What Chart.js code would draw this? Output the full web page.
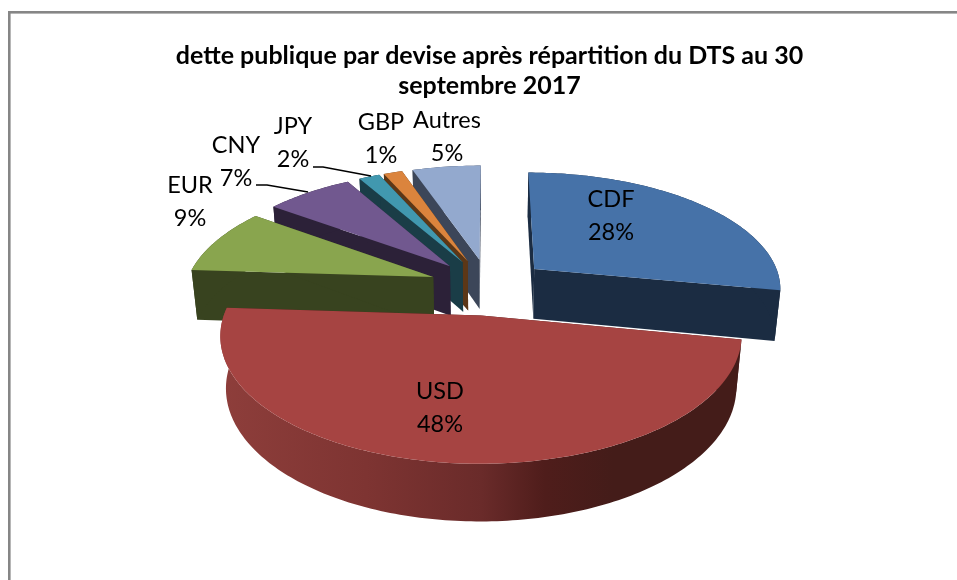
<!DOCTYPE html>
<html><head><meta charset="utf-8">
<style>html,body{margin:0;padding:0;background:#fff}canvas{display:block}</style>
<script src="https://cdn.jsdelivr.net/npm/chart.js@4"></script>
</head><body><canvas id="c" width="957" height="580"></canvas>
<script>
const categories = ["CDF","USD","EUR","CNY","JPY","GBP","Autres"];
const shares = [28,48,9,6.7,1.6,1.45,5.25];
const topColors = ["#4672A8","#A64442","#89A54E","#71588F","#4198AF","#DB843D","#93A9CE"];
const sideColors = ["#1B2C42","#4A1C1A","#38431F","#2C2138","#1A3D47","#5C3717","#3C4659"];
const titleLines = ["dette publique par devise après répartition du DTS au 30","septembre 2017"];
const paintOrder = [0,6,5,4,3,2,1];
// label centres, and leader lines, as page positions
const labelAt = [[611,216],[440,408],[190,202],[236,162],[293,143],[381,139],[447,137]];
const leaders = [[[256,185],[267,185],[308,192]],[[313,167],[323,167],[371,176]]];
// view: perspective of the tilted pie
const view = {cx:489, cy:286.5, radius:248, explode:0.242, tiltY:116, persp:0.152, depth:51.5, depthPersp:0.02};

function project(arc, X, Y, Z){
  const w = 1 - view.persp*Y + view.depthPersp*Z;
  return [view.cx + view.radius*X/w, view.cy + (view.tiltY*Y + view.depth*Z)/w];
}
const pie3d = {
  id:'pie3d',
  beforeDraw(chart){
    const c = chart.ctx; c.save(); c.fillStyle='#868686';
    c.fillRect(8,11,949,2.6); c.fillRect(8,11,2.6,569); c.restore();
  },
  beforeDatasetsDraw(chart){
    const c = chart.ctx, arcs = chart.getDatasetMeta(0).data;
    paintOrder.forEach(i=>{
      const a = arcs[i];
      const s = a.startAngle + Math.PI/2, e = a.endAngle + Math.PI/2, m = (s+e)/2;
      const ox = view.explode*Math.sin(m), oy = -view.explode*Math.cos(m);
      const rim = (t,z)=>project(a, ox+Math.sin(t), oy-Math.cos(t), z);
      const apex = z=>project(a, ox, oy, z);
      const n = Math.max(4, Math.ceil((e-s)/(Math.PI/180)));
      const ts = []; for(let k=0;k<=n;k++) ts.push(s+(e-s)*k/n);
      const poly = (pts,fill)=>{c.beginPath();pts.forEach((p,k)=>k?c.lineTo(p[0],p[1]):c.moveTo(p[0],p[1]));c.closePath();c.fillStyle=fill;c.fill();};
      poly([apex(0),rim(s,0),rim(s,1),apex(1)], sideColors[i]);
      poly([apex(0),rim(e,0),rim(e,1),apex(1)], sideColors[i]);
      let bandFill = sideColors[i];
      if(categories[i]==="USD"){
        const g = c.createLinearGradient(view.cx-270,0,view.cx+255,0);
        g.addColorStop(0,'#8E3E3B'); g.addColorStop(0.28,'#7E3432');
        g.addColorStop(0.5,'#6A2B2A'); g.addColorStop(0.62,'#4F1D1B');
        g.addColorStop(0.75,'#441C19'); g.addColorStop(1,'#441C19');
        bandFill = g;
      }
      poly(ts.map(t=>rim(t,0)).concat(ts.slice().reverse().map(t=>rim(t,1))), bandFill);
      poly([apex(0)].concat(ts.map(t=>rim(t,0))), a.options.backgroundColor);
    });
    return false;
  },
  afterDraw(chart){
    const c = chart.ctx; c.save();
    c.fillStyle='#000'; c.textAlign='center'; c.textBaseline='middle';
    c.font='23.5px Lato';
    categories.forEach((n,i)=>{
      c.fillText(n,labelAt[i][0],labelAt[i][1]-16.5);
      c.fillText(Math.round(shares[i])+'%',labelAt[i][0],labelAt[i][1]+16.5);
    });
    c.strokeStyle='#000'; c.lineWidth=1.4;
    leaders.forEach(l=>{c.beginPath();l.forEach((p,k)=>k?c.lineTo(p[0],p[1]):c.moveTo(p[0],p[1]));c.stroke();});
    c.restore();
  }
};
new Chart(document.getElementById('c'),{
  type:'pie',
  data:{labels:categories,datasets:[{data:shares,backgroundColor:topColors,borderWidth:0}]},
  plugins:[pie3d],
  options:{
    responsive:false,animation:false,
    layout:{padding:{left:22,top:41}},
    plugins:{
      legend:{display:false},tooltip:{enabled:false},
      title:{display:true,text:titleLines,color:'#000',font:{family:'Lato',size:25,weight:'bold',lineHeight:1.2},padding:0}
    }
  }
});
</script></body></html>
